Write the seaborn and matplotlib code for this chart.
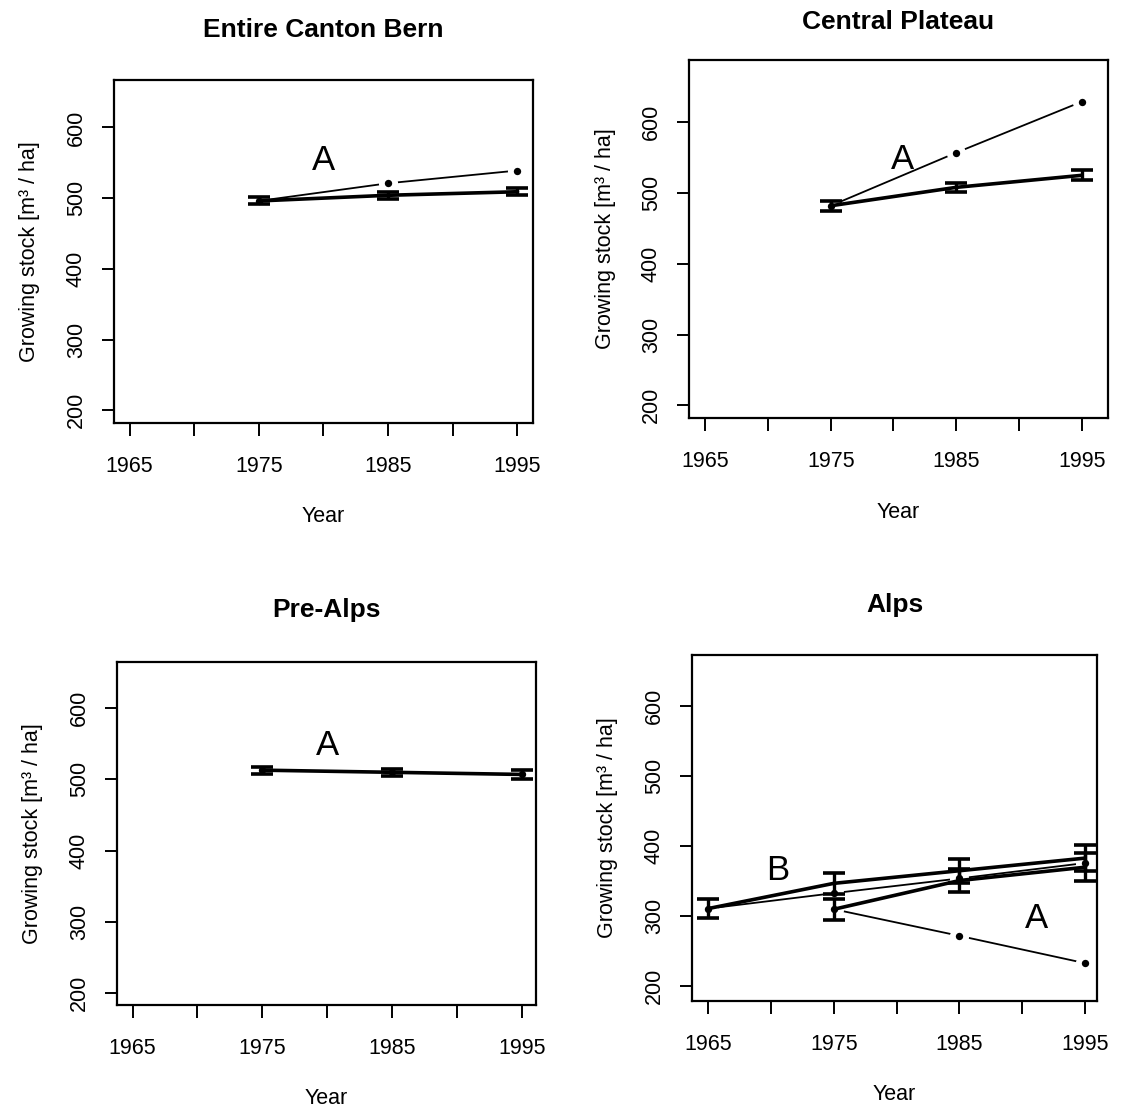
import pandas as pd
import matplotlib
matplotlib.use('Agg')
import matplotlib.pyplot as plt
import seaborn as sns

# Growing stock per region
bern_years = [1975, 1985, 1995]
bern_mean = [496, 504, 509]
bern_err = [5, 5, 5]
bern_a = [496, 521, 539]

plateau_years = [1975, 1985, 1995]
plateau_mean = [482, 508, 525]
plateau_err = [7, 6, 7]
plateau_a = [482, 557, 629]

prealps_years = [1975, 1985, 1995]
prealps_mean = [513, 510, 507]
prealps_err = [5, 5, 6]
prealps_a = [513, 510, 507]

alps_b_years = [1965, 1975, 1985, 1995]
alps_b_mean = [311, 347, 365, 383]
alps_b_err = [14, 15, 17, 19]
alps_b_thin = [311, 333, 354, 376]
alps_a_years = [1975, 1985, 1995]
alps_a_mean = [310, 351, 370]
alps_a_err = [15, 17, 20]
alps_a_thin = [310, 272, 233]

x_ticks = [1965, 1970, 1975, 1980, 1985, 1990, 1995]
x_labels = ['1965', '', '1975', '', '1985', '', '1995']
y_ticks = [200, 300, 400, 500, 600]

sns.set_style('ticks')
plt.rcParams['font.family'] = ['Liberation Sans', 'DejaVu Sans']
plt.rcParams['text.color'] = 'black'
plt.rcParams['axes.labelcolor'] = 'black'
plt.rcParams['xtick.color'] = 'black'
plt.rcParams['ytick.color'] = 'black'

W, H = 1127, 1109
fig = plt.figure(figsize=(W / 100, H / 100), dpi=100)


def make_axes(box, xlim, ylim, title, title_gap):
    # box = left, right, top, bottom in pixels
    l, r, t, b = box
    ax = fig.add_axes([l / W, 1 - b / H, (r - l) / W, (b - t) / H])
    ax.set_xlim(*xlim)
    ax.set_ylim(*ylim)
    ax.set_xticks(x_ticks)
    ax.set_xticklabels(x_labels)
    ax.set_yticks(y_ticks)
    ax.set_yticklabels([str(v) for v in y_ticks], rotation=90, va='center')
    ax.tick_params(direction='out', length=9, width=1.4, labelsize=15.5,
                   colors='black', bottom=True, left=True)
    ax.tick_params(axis='x', pad=14.5)
    ax.tick_params(axis='y', pad=10.5)
    for s in ax.spines.values():
        s.set_visible(True)
        s.set_color('black')
        s.set_linewidth(1.6)
    ax.set_xlabel('Year', fontsize=15.5)
    ax.set_ylabel('Growing stock [m³ / ha]', fontsize=15.5)
    ax.xaxis.set_label_coords(0.5, -94 / (b - t))
    ax.xaxis.label.set_va('center')
    ax.yaxis.set_label_coords(-84 / (r - l), 0.5)
    ax.yaxis.label.set_va('center')
    ax.set_title(title, fontsize=19, fontweight='bold', color='black',
                 y=1 + title_gap / (b - t), va='center', pad=0)
    return ax


def thin_series(ax, years, vals):
    df = pd.DataFrame({'year': years, 'gs': vals})
    sns.lineplot(data=df, x='year', y='gs', ax=ax, color='black',
                 linewidth=1.3, zorder=2)
    # gaps around the points (type "b")
    sns.scatterplot(data=df, x='year', y='gs', ax=ax, color='white',
                    s=190, linewidth=0, zorder=3)
    sns.scatterplot(data=df, x='year', y='gs', ax=ax, color='black',
                    s=28, linewidth=0, zorder=4)


def thick_series(ax, years, vals, errs):
    df = pd.DataFrame({'year': years, 'gs': vals})
    sns.lineplot(data=df, x='year', y='gs', ax=ax, color='black',
                 linewidth=2.6, zorder=5)
    ax.errorbar(years, vals, yerr=errs, fmt='none', ecolor='black',
                elinewidth=2.4, capsize=8, capthick=2.6, zorder=6)


ax1 = make_axes((114, 533, 80, 423), (1963.8, 1996.2), (182, 667),
                'Entire Canton Bern', 50)
thin_series(ax1, bern_years, bern_a)
thick_series(ax1, bern_years, bern_mean, bern_err)
ax1.text(1980, 553, 'A', fontsize=25, ha='center', va='center')

ax2 = make_axes((689, 1108, 60, 418), (1963.7, 1997.1), (182, 688),
                'Central Plateau', 38)
thin_series(ax2, plateau_years, plateau_a)
thick_series(ax2, plateau_years, plateau_mean, plateau_err)
ax2.text(1980.7, 547, 'A', fontsize=25, ha='center', va='center')

ax3 = make_axes((117, 536, 662, 1005), (1963.8, 1996.1), (183, 665),
                'Pre-Alps', 52)
thin_series(ax3, prealps_years, prealps_a)
thick_series(ax3, prealps_years, prealps_mean, prealps_err)
ax3.text(1980, 548, 'A', fontsize=25, ha='center', va='center')

ax4 = make_axes((692, 1097, 655, 1001), (1963.7, 1995.95), (179, 673),
                'Alps', 50)
thin_series(ax4, alps_b_years, alps_b_thin)
thin_series(ax4, alps_a_years, alps_a_thin)
thick_series(ax4, alps_b_years, alps_b_mean, alps_b_err)
thick_series(ax4, alps_a_years, alps_a_mean, alps_a_err)
ax4.text(1970.5, 365, 'B', fontsize=25, ha='center', va='center')
ax4.text(1991.1, 297, 'A', fontsize=25, ha='center', va='center')

for ax in (ax1, ax2, ax3, ax4):
    if ax.get_legend() is not None:
        ax.get_legend().remove()

fig.savefig('out.png', dpi=100)
